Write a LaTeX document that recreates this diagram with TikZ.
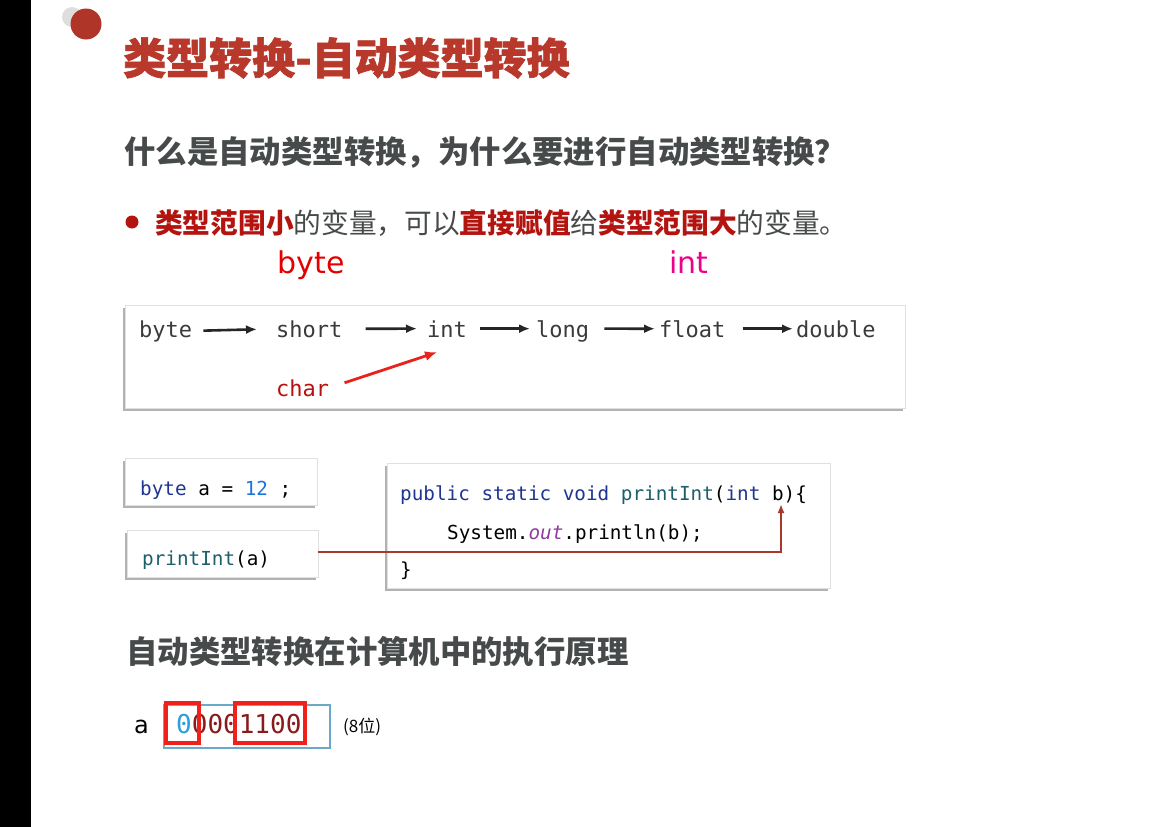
\documentclass[tikz,border=0pt]{standalone}
\usepackage{fontspec}
\setmainfont{DejaVu Sans}
\newfontfamily\cjk{Noto Sans CJK SC}
\newfontfamily\cjkheavy[FakeBold=1.5]{Noto Sans CJK SC}
\newfontfamily\codefont{DejaVu Sans Mono}
\usepackage{tikz}
\usetikzlibrary{arrows.meta,positioning,shadows}
\definecolor{TitleRed}{HTML}{B8382B}
\definecolor{HeadGray}{HTML}{474A4A}
\definecolor{BulletRed}{HTML}{B3140F}
\definecolor{WordGray}{HTML}{3A3A3A}
\definecolor{CharRed}{HTML}{B81210}
\definecolor{ArrowRed}{HTML}{E8231A}
\definecolor{KeyNavy}{HTML}{1F3592}
\definecolor{MethodTeal}{HTML}{1D5F6A}
\definecolor{NumBlue}{HTML}{1E73D8}
\definecolor{FieldPurple}{HTML}{8E3C9E}
\definecolor{LinkRed}{HTML}{A8372C}
\definecolor{BitBlue}{HTML}{2A9FD8}
\definecolor{BitRed}{HTML}{8B1A1A}
\definecolor{BitFrame}{HTML}{6AAAC8}
\definecolor{MarkRed}{HTML}{F0201A}

\begin{document}
\begin{tikzpicture}[x=1pt,y=-1pt,>=Latex,
 panel/.style={draw=black!12,fill=white,inner sep=0pt,
               drop shadow={shadow xshift=-2.5pt,shadow yshift=-2.5pt,opacity=.5,fill=black!60}},
 word/.style={anchor=base west,inner sep=0pt,text=WordGray,
              font=\codefont\fontsize{22}{26}\selectfont},
 code/.style={anchor=base west,inner sep=0pt,text=black,
              font=\codefont\fontsize{19.3}{23}\selectfont},
 heading/.style={anchor=west,inner sep=0pt,text=HeadGray,
                 font=\cjk\bfseries\fontsize{31.4}{36}\selectfont},
 flow/.style={-{Latex[length=11pt,width=9pt]},line width=2.6pt,black!85},
 link/.style={-{Latex[length=9pt,width=7pt]},line width=2pt,LinkRed},
 bitmark/.style={draw=MarkRed,line width=4pt}]
\useasboundingbox (0,0) rectangle (1160,827);
\fill[white] (0,0) rectangle (1160,827);
\fill[black] (0,0) rectangle (31,827);
% slide decoration
\fill[black!13] (72,17) circle (10);
\fill[TitleRed!95!black] (86,24) circle (15.5);
\node[anchor=west,inner sep=0pt,text=TitleRed,font=\cjkheavy\bfseries\fontsize{43}{46}\selectfont]
  (title) at (123,58) {类型转换-自动类型转换};
\node[heading] (question) at (124,152) {什么是自动类型转换，为什么要进行自动类型转换？};
\node[circle,fill=BulletRed,inner sep=0pt,minimum size=13pt] (bullet) at (132,222) {};
\node[anchor=west,inner sep=0pt,text=HeadGray,font=\cjk\fontsize{27.7}{32}\selectfont] (rule) at (155,223)
  {{\color{BulletRed}\bfseries 类型范围小}的变量，可以{\color{BulletRed}\bfseries 直接赋值}给{\color{BulletRed}\bfseries 类型范围大}的变量。};
\node[text=red!90!black,font=\fontsize{30}{34}\selectfont,inner sep=0pt] (small) at (311,265) {byte};
\node[text=magenta,font=\fontsize{30}{34}\selectfont,inner sep=0pt] (large) at (689,262) {int};

% widening chain
\node[panel,minimum width=780pt,minimum height=103pt] (chain) at (515,356.5) {};
\node[word] (byte) at (139,337) {byte};
\node[word] (short) at (276,337) {short};
\node[word] (int) at (427,337) {int};
\node[word] (long) at (536,337) {long};
\node[word] (float) at (659,337) {float};
\node[word] (double) at (796,337) {double};
\node[word,text=CharRed] (char) at (276,396) {char};
\draw[flow,shorten <=11pt,shorten >=19pt] (byte.east) -- (short.west);
\draw[flow,shorten <=23pt,shorten >=10pt] (short.east) -- (int.west);
\draw[flow,shorten <=13pt,shorten >=6pt] (int.east) -- (long.west |- int.west);
\draw[flow,shorten <=15pt,shorten >=4pt] (long.east |- int.east) -- (float.west);
\draw[flow,shorten <=17pt,shorten >=3pt] (float.east) -- (double.west);
\draw[-{Latex[length=12pt,width=10pt]},line width=2.8pt,ArrowRed,shorten <=16pt]
  (char.east) -- ([xshift=10pt,yshift=-15pt]int.south west);

% method call example
\node[panel,minimum width=192pt,minimum height=47pt] (declbox) at (221,481.5) {};
\node[code] (decl) at (140,495) {{\color{KeyNavy}byte} a = {\color{NumBlue}12} ;};
\node[panel,minimum width=191pt,minimum height=47pt] (callbox) at (222.5,553.5) {};
\node[code] (call) at (142,565) {{\color{MethodTeal}printInt}(a)};
\node[panel,minimum width=443pt,minimum height=125pt] (method) at (608.5,525.5) {};
\node[code] (sig) at (400,500)
  {{\color{KeyNavy}public static void} {\color{MethodTeal}printInt}({\color{KeyNavy}int} b)\{};
\node[code] (body) at (447,539) {System.{\color{FieldPurple}\itshape out}.println(b);};
\node[code] (close) at (400,576) {\}};
\coordinate (param) at (781,504);
\draw[link] ([yshift=1.5pt]callbox.east) -| (param);

% bits in memory
\node[heading] (principle) at (126,652) {自动类型转换在计算机中的执行原理};
\node[anchor=west,inner sep=0pt,font=\fontsize{24}{28}\selectfont] (var) at (134,727) {a};
\node[draw=BitFrame,line width=1.3pt,minimum width=166pt,minimum height=43pt,inner sep=0pt] (cell) at (247,726.5) {};
\node[anchor=west,inner sep=0pt,text=BitRed,font=\codefont\fontsize{26}{30}\selectfont] (bits) at (176,724)
  {{\color{BitBlue}0}0001100};
\draw[bitmark] (166,703) rectangle (199,743);
\draw[bitmark] (235,703) rectangle (305,743);
\node[anchor=west,inner sep=0pt,font=\cjk\fontsize{17}{20}\selectfont] (width) at (343,727) {(8位)};
\end{tikzpicture}
\end{document}
